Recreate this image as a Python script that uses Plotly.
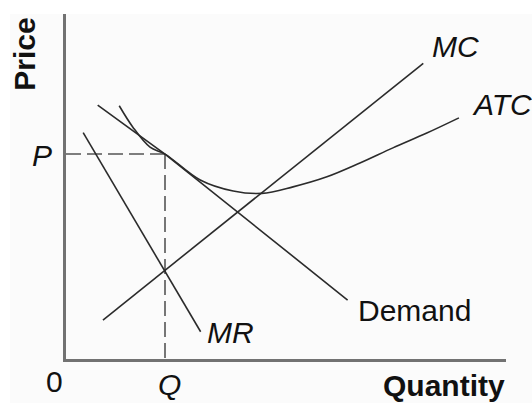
import plotly.graph_objects as go

# Data (quantity units 0-10, price units 0-10)
demand_q = [0.72, 2.25, 6.40]
demand_p = [7.36, 5.94, 1.71]

mr_q = [0.39, 3.06]
mr_p = [6.56, 0.79]

mc_q = [0.84, 8.12]
mc_p = [1.13, 8.57]

atc_q = [1.21, 1.52, 1.91, 2.25, 3.05, 3.80, 4.45, 5.16, 5.93, 6.68, 7.43, 8.20, 8.93]
atc_p = [7.34, 6.72, 6.14, 5.94, 5.19, 4.87, 4.80, 4.99, 5.28, 5.68, 6.12, 6.55, 6.99]

q_star = 2.25
p_star = 5.94

line_col = "#2b2b2b"
axis_col = "#727272"
FONT = "Liberation Sans, Arial, Helvetica, sans-serif"

fig = go.Figure()

# dashed guides
fig.add_trace(go.Scatter(x=[0, q_star], y=[p_star, p_star], mode="lines",
                         line=dict(color="#555555", width=1.6, dash="15px,6px"), hoverinfo="skip"))
fig.add_trace(go.Scatter(x=[q_star, q_star], y=[p_star, 0], mode="lines",
                         line=dict(color="#555555", width=1.6, dash="15px,6px"), hoverinfo="skip"))

fig.add_trace(go.Scatter(x=demand_q, y=demand_p, mode="lines", line=dict(color=line_col, width=1.6), hoverinfo="skip"))
fig.add_trace(go.Scatter(x=mr_q, y=mr_p, mode="lines", line=dict(color=line_col, width=1.6), hoverinfo="skip"))
fig.add_trace(go.Scatter(x=mc_q, y=mc_p, mode="lines", line=dict(color=line_col, width=1.6), hoverinfo="skip"))
fig.add_trace(go.Scatter(x=atc_q, y=atc_p, mode="lines", line=dict(color=line_col, width=1.6, shape="spline", smoothing=1.0), hoverinfo="skip"))

def label(text, x, y, size=30, italic=False, bold=False, angle=0):
    t = text
    if bold:
        t = "<b>" + t + "</b>"
    if italic:
        t = "<i>" + t + "</i>"
    # positions given in data units (0-10 on both axes) -> paper fraction
    fig.add_annotation(x=x / 10.0, y=y / 10.0, xref="paper", yref="paper", text=t, showarrow=False,
                       textangle=angle, xanchor="center", yanchor="middle",
                       font=dict(family=FONT, size=size, color="#111111"))

label("MC", 8.86, 9.07, italic=True)
label("ATC", 9.91, 7.39, italic=True)
label("Demand", 7.93, 1.42)
label("MR", 3.73, 0.78, italic=True)
label("P", -0.55, 5.91, italic=True)
label("0", -0.26, -0.64)
label("Q", 2.36, -0.75, italic=True)
label("Quantity", 8.59, -0.78, bold=True)
label("Price", -0.96, 8.84, bold=True, angle=-90)

# off-white background panel
fig.add_shape(type="rect", xref="paper", yref="paper", x0=-0.127, x1=1.07, y0=-0.14, y1=1.0,
              fillcolor="#fbfbfb", line=dict(width=0), layer="below")

fig.update_layout(
    width=532, height=403,
    margin=dict(l=66, r=26, t=14, b=44),
    paper_bgcolor="white", plot_bgcolor="rgba(0,0,0,0)",
    showlegend=False,
    xaxis=dict(range=[0, 10], showgrid=False, zeroline=False, showticklabels=False, ticks="",
               showline=True, linecolor=axis_col, linewidth=2.5),
    yaxis=dict(range=[0, 10], showgrid=False, zeroline=False, showticklabels=False, ticks="",
               showline=True, linecolor=axis_col, linewidth=2.5),
)

fig.write_html("out.html", config={"displayModeBar": False},
               post_script="document.body.style.margin='0';document.body.style.overflow='hidden';")
